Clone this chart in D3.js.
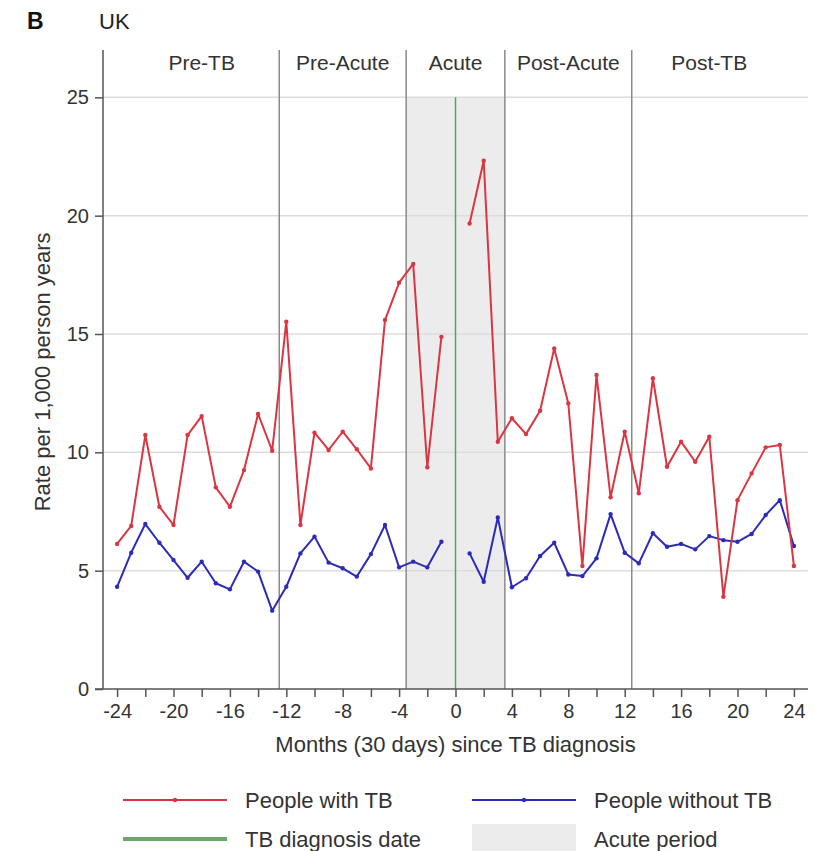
<!DOCTYPE html>
<html>
<head>
<meta charset="utf-8">
<script src="https://cdn.jsdelivr.net/npm/d3@7.9.0/dist/d3.min.js"></script>
<style>
  body { margin: 0; background: #fff; }
  svg { font-family: "Liberation Sans", Arial, sans-serif; }
</style>
</head>
<body>
<svg id="chart" width="814" height="851"></svg>
<script>
// months either side of diagnosis (month 0 has no value)
const monthsBefore = [-24, -23, -22, -21, -20, -19, -18, -17, -16, -15, -14, -13,
  -12, -11, -10, -9, -8, -7, -6, -5, -4, -3, -2, -1];
const monthsAfter = [1, 2, 3, 4, 5, 6, 7, 8, 9, 10, 11, 12,
  13, 14, 15, 16, 17, 18, 19, 20, 21, 22, 23, 24];

const withTbBefore = [6.13, 6.89, 10.73, 7.70, 6.93, 10.73, 11.53, 8.52, 7.70, 9.25, 11.62, 10.07,
  15.52, 6.93, 10.83, 10.10, 10.87, 10.13, 9.32, 15.59, 17.17, 17.96, 9.37, 14.88];
const withTbAfter = [19.67, 22.32, 10.45, 11.44, 10.77, 11.76, 14.39, 12.07, 5.20, 13.27, 8.10, 10.87,
  8.27, 13.13, 9.39, 10.45, 9.60, 10.66, 3.90, 7.98, 9.11, 10.21, 10.31, 5.20];

const withoutTbBefore = [4.32, 5.76, 6.97, 6.18, 5.45, 4.70, 5.38, 4.47, 4.21, 5.38, 4.96, 3.31,
  4.32, 5.73, 6.44, 5.34, 5.10, 4.75, 5.70, 6.93, 5.14, 5.38, 5.14, 6.22];
const withoutTbAfter = [5.73, 4.53, 7.25, 4.30, 4.68, 5.62, 6.18, 4.84, 4.77, 5.52, 7.39, 5.76,
  5.31, 6.58, 6.01, 6.13, 5.90, 6.46, 6.29, 6.22, 6.55, 7.35, 7.98, 6.04];

const sectionLabels = ['Pre-TB', 'Pre-Acute', 'Acute', 'Post-Acute', 'Post-TB'];
const sectionCenters = [-18, -8, 0, 8, 18];
const sectionBreaks = [-12.5, -3.5, 3.5, 12.5];
const acutePeriod = [-3.5, 3.5];

const yTicks = [0, 5, 10, 15, 20, 25];
const xTicks = [-24, -22, -20, -18, -16, -14, -12, -10, -8, -6, -4, -2, 0,
  2, 4, 6, 8, 10, 12, 14, 16, 18, 20, 22, 24];

const red = '#da3642', blue = '#2b2bb8', green = '#58a458';
const font = '"Liberation Sans", Arial, sans-serif';

const svg = d3.select('#chart');
const x = d3.scaleLinear().domain([-25, 25]).range([103, 808]);
const y = d3.scaleLinear().domain([0, 27]).range([689, 50]);

// acute shading
svg.append('rect')
  .attr('x', x(acutePeriod[0]))
  .attr('width', x(acutePeriod[1]) - x(acutePeriod[0]))
  .attr('y', y(25))
  .attr('height', y(0) - y(25))
  .attr('fill', '#ececec');

// grid
svg.append('g').selectAll('line')
  .data(yTicks.filter(d => d > 0))
  .join('line')
  .attr('x1', x(-25)).attr('x2', x(25))
  .attr('y1', d => y(d)).attr('y2', d => y(d))
  .attr('stroke', '#dcdcdc').attr('stroke-width', 1.5);

// section dividers
svg.append('g').selectAll('line')
  .data(sectionBreaks)
  .join('line')
  .attr('x1', d => x(d)).attr('x2', d => x(d))
  .attr('y1', y(27)).attr('y2', y(0))
  .attr('stroke', '#8a8a8a').attr('stroke-width', 1.5);

// diagnosis date
svg.append('line')
  .attr('x1', x(0)).attr('x2', x(0))
  .attr('y1', y(25)).attr('y2', y(0))
  .attr('stroke', green).attr('stroke-width', 1.5);

svg.append('g').selectAll('text')
  .data(sectionLabels)
  .join('text')
  .attr('x', (d, i) => x(sectionCenters[i]))
  .attr('y', 70)
  .attr('text-anchor', 'middle')
  .attr('font-size', 21)
  .attr('fill', '#333')
  .text(d => d);

// axes
const yAxis = svg.append('g')
  .attr('transform', `translate(${x(-25)},0)`)
  .call(d3.axisLeft(y).tickValues(yTicks).tickSize(8).tickPadding(6));
yAxis.select('.domain').remove();
yAxis.selectAll('.tick line').attr('stroke', '#555').attr('stroke-width', 1.5);
yAxis.selectAll('.tick text').attr('font-size', 20).attr('fill', '#333')
  .attr('font-family', font);

const xAxis = svg.append('g')
  .attr('transform', `translate(0,${y(0)})`)
  .call(d3.axisBottom(x).tickValues(xTicks).tickSize(8).tickPadding(7)
    .tickFormat(d => d % 4 === 0 ? d : ''));
xAxis.select('.domain').remove();
xAxis.selectAll('.tick line').attr('stroke', '#555').attr('stroke-width', 1.5);
xAxis.selectAll('.tick text').attr('font-size', 20).attr('fill', '#333')
  .attr('font-family', font);

svg.append('line')
  .attr('x1', x(-25)).attr('x2', x(-25))
  .attr('y1', y(27)).attr('y2', y(0))
  .attr('stroke', '#555').attr('stroke-width', 1.5);
svg.append('line')
  .attr('x1', x(-25) - 8).attr('x2', x(25))
  .attr('y1', y(0)).attr('y2', y(0))
  .attr('stroke', '#555').attr('stroke-width', 1.5);

// series
const line = d3.line().x(d => x(d[0])).y(d => y(d[1]));
function drawSeries(months, values, color) {
  const pts = months.map((m, i) => [m, values[i]]);
  svg.append('path')
    .datum(pts)
    .attr('d', line)
    .attr('fill', 'none')
    .attr('stroke', color)
    .attr('stroke-width', 2)
    .attr('stroke-linejoin', 'round');
  svg.append('g').selectAll('circle')
    .data(pts)
    .join('circle')
    .attr('cx', d => x(d[0]))
    .attr('cy', d => y(d[1]))
    .attr('r', 2.2)
    .attr('fill', color);
}
drawSeries(monthsBefore, withoutTbBefore, blue);
drawSeries(monthsAfter, withoutTbAfter, blue);
drawSeries(monthsBefore, withTbBefore, red);
drawSeries(monthsAfter, withTbAfter, red);

// titles
svg.append('text').attr('x', 27).attr('y', 29)
  .attr('font-size', 23).attr('font-weight', 'bold').attr('fill', '#111').text('B');
svg.append('text').attr('x', 99).attr('y', 29)
  .attr('font-size', 22).attr('fill', '#222').text('UK');

svg.append('text')
  .attr('x', x(0)).attr('y', 752)
  .attr('text-anchor', 'middle')
  .attr('font-size', 22).attr('fill', '#333')
  .text('Months (30 days) since TB diagnosis');

svg.append('text')
  .attr('transform', `translate(50,${y(13.4)}) rotate(-90)`)
  .attr('text-anchor', 'middle')
  .attr('font-size', 22).attr('fill', '#333')
  .text('Rate per 1,000 person years');

// legend
const legend = svg.append('g').attr('font-size', 22).attr('fill', '#333');
function lineKey(x0, yy, color, label, width, dot) {
  legend.append('line')
    .attr('x1', x0).attr('x2', x0 + 104).attr('y1', yy).attr('y2', yy)
    .attr('stroke', color).attr('stroke-width', width);
  if (dot) legend.append('circle').attr('cx', x0 + 52).attr('cy', yy).attr('r', 2.2).attr('fill', color);
  legend.append('text').attr('x', x0 + 122).attr('y', yy + 8).text(label);
}
lineKey(123, 800, red, 'People with TB', 2, true);
lineKey(472, 800, blue, 'People without TB', 2, true);
lineKey(123, 839, '#6aa86a', 'TB diagnosis date', 4, false);
legend.append('rect').attr('x', 472).attr('y', 824).attr('width', 104).attr('height', 30)
  .attr('fill', '#ececec');
legend.append('text').attr('x', 594).attr('y', 847).text('Acute period');
</script>
</body>
</html>
